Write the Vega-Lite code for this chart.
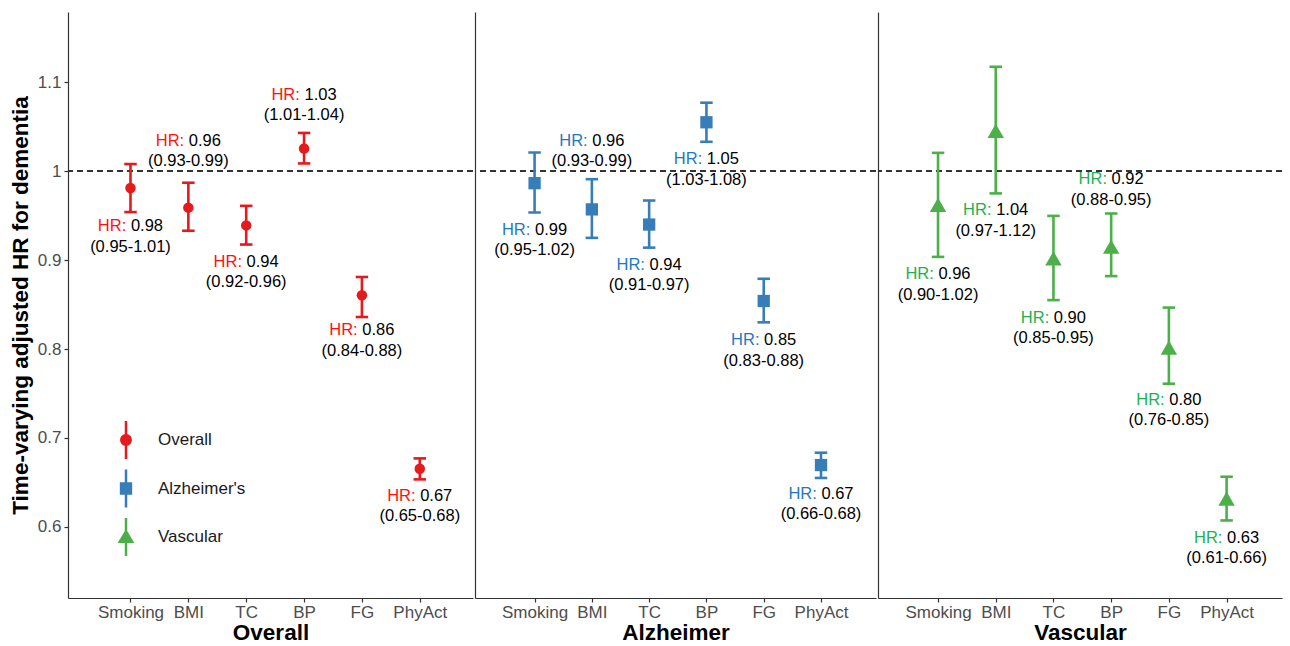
{
  "$schema": "https://vega.github.io/schema/vega-lite/v6.json",
  "background": "white",
  "padding": {"left": 9, "top": 12, "right": 4, "bottom": 0},
  "spacing": 0,
  "config": {
    "font": "Liberation Sans",
    "view": {"stroke": null},
    "axis": {"grid": false, "domainColor": "#333333", "domainWidth": 1.2, "tickColor": "#333333", "tickSize": 4, "tickWidth": 1.2, "labelColor": "#4D4D4D", "labelFontSize": 17, "labelFont": "Liberation Sans", "titleFont": "Liberation Sans", "titleFontSize": 22.5, "titleFontWeight": "bold", "titleColor": "#000000"},
    "text": {"font": "Liberation Sans", "fontSize": 16.5, "baseline": "middle"}
  },
  "datasets": {
    "hr": [
      {"outcome": "Overall", "factor": "Smoking", "hr": 0.981, "lo": 0.954, "hi": 1.008, "hr_txt": "0.98", "ci_txt": "(0.95-1.01)", "label_y": 0.938},
      {"outcome": "Overall", "factor": "BMI", "hr": 0.959, "lo": 0.933, "hi": 0.987, "hr_txt": "0.96", "ci_txt": "(0.93-0.99)", "label_y": 1.034},
      {"outcome": "Overall", "factor": "TC", "hr": 0.939, "lo": 0.9175, "hi": 0.961, "hr_txt": "0.94", "ci_txt": "(0.92-0.96)", "label_y": 0.898},
      {"outcome": "Overall", "factor": "BP", "hr": 1.0255, "lo": 1.0087, "hi": 1.043, "hr_txt": "1.03", "ci_txt": "(1.01-1.04)", "label_y": 1.086},
      {"outcome": "Overall", "factor": "FG", "hr": 0.8605, "lo": 0.836, "hi": 0.881, "hr_txt": "0.86", "ci_txt": "(0.84-0.88)", "label_y": 0.821},
      {"outcome": "Overall", "factor": "PhyAct", "hr": 0.6654, "lo": 0.6534, "hi": 0.677, "hr_txt": "0.67", "ci_txt": "(0.65-0.68)", "label_y": 0.635},
      {"outcome": "Alzheimer's", "factor": "Smoking", "hr": 0.9865, "lo": 0.9535, "hi": 1.021, "hr_txt": "0.99", "ci_txt": "(0.95-1.02)", "label_y": 0.934},
      {"outcome": "Alzheimer's", "factor": "BMI", "hr": 0.957, "lo": 0.925, "hi": 0.991, "hr_txt": "0.96", "ci_txt": "(0.93-0.99)", "label_y": 1.034},
      {"outcome": "Alzheimer's", "factor": "TC", "hr": 0.94, "lo": 0.914, "hi": 0.967, "hr_txt": "0.94", "ci_txt": "(0.91-0.97)", "label_y": 0.895},
      {"outcome": "Alzheimer's", "factor": "BP", "hr": 1.055, "lo": 1.033, "hi": 1.077, "hr_txt": "1.05", "ci_txt": "(1.03-1.08)", "label_y": 1.0135},
      {"outcome": "Alzheimer's", "factor": "FG", "hr": 0.854, "lo": 0.83, "hi": 0.879, "hr_txt": "0.85", "ci_txt": "(0.83-0.88)", "label_y": 0.81},
      {"outcome": "Alzheimer's", "factor": "PhyAct", "hr": 0.6695, "lo": 0.655, "hi": 0.6834, "hr_txt": "0.67", "ci_txt": "(0.66-0.68)", "label_y": 0.637},
      {"outcome": "Vascular", "factor": "Smoking", "hr": 0.962, "lo": 0.9036, "hi": 1.0206, "hr_txt": "0.96", "ci_txt": "(0.90-1.02)", "label_y": 0.884},
      {"outcome": "Vascular", "factor": "BMI", "hr": 1.0454, "lo": 0.975, "hi": 1.1174, "hr_txt": "1.04", "ci_txt": "(0.97-1.12)", "label_y": 0.956},
      {"outcome": "Vascular", "factor": "TC", "hr": 0.902, "lo": 0.855, "hi": 0.9497, "hr_txt": "0.90", "ci_txt": "(0.85-0.95)", "label_y": 0.835},
      {"outcome": "Vascular", "factor": "BP", "hr": 0.915, "lo": 0.882, "hi": 0.9524, "hr_txt": "0.92", "ci_txt": "(0.88-0.95)", "label_y": 0.991},
      {"outcome": "Vascular", "factor": "FG", "hr": 0.8016, "lo": 0.761, "hi": 0.8466, "hr_txt": "0.80", "ci_txt": "(0.76-0.85)", "label_y": 0.743},
      {"outcome": "Vascular", "factor": "PhyAct", "hr": 0.6317, "lo": 0.6072, "hi": 0.6564, "hr_txt": "0.63", "ci_txt": "(0.61-0.66)", "label_y": 0.588}
    ]
  },
  "data": {"name": "hr"},
  "hconcat": [
    {
      "width": 405, "height": 586,
      "transform": [{"filter": "datum.outcome === 'Overall'"}],
      "layer": [
        {"mark": {"type": "rule", "strokeDash": [6, 4], "color": "#333333", "strokeWidth": 1.2},
         "encoding": {"y": {"datum": 1, "type": "quantitative", "scale": {"domain": [0.52, 1.179], "nice": false, "zero": false}, "title": "Time-varying adjusted HR for dementia", "axis": {"values": [0.6, 0.7, 0.8, 0.9, 1, 1.1], "format": ".2~f", "labelPadding": 3, "titlePadding": 5}}}},
        {"mark": {"type": "rule", "color": "#E41A1C", "strokeWidth": 2.6},
         "encoding": {"x": {"field": "factor", "type": "nominal", "scale": {"type": "point", "domain": ["Smoking", "BMI", "TC", "BP", "FG", "PhyAct"], "padding": 1, "align": 0.54}, "title": "Overall", "axis": {"labelAngle": 0, "titlePadding": 1, "labelPadding": 2}},
                      "y": {"field": "lo", "type": "quantitative", "title": "Time-varying adjusted HR for dementia"}, "y2": {"field": "hi"}}},
        {"mark": {"type": "tick", "color": "#E41A1C", "thickness": 2.6, "size": 12.5, "opacity": 1},
         "encoding": {"x": {"field": "factor", "type": "nominal", "title": "Overall"}, "y": {"field": "lo", "type": "quantitative", "title": "Time-varying adjusted HR for dementia"}}},
        {"mark": {"type": "tick", "color": "#E41A1C", "thickness": 2.6, "size": 12.5, "opacity": 1},
         "encoding": {"x": {"field": "factor", "type": "nominal", "title": "Overall"}, "y": {"field": "hi", "type": "quantitative", "title": "Time-varying adjusted HR for dementia"}}},
        {"mark": {"type": "point", "shape": "circle", "filled": true, "color": "#E41A1C", "size": 110, "opacity": 1},
         "encoding": {"x": {"field": "factor", "type": "nominal", "title": "Overall"}, "y": {"field": "hr", "type": "quantitative", "title": "Time-varying adjusted HR for dementia"}}},
        {"mark": {"type": "text", "text": "HR:", "align": "right", "dx": -4.2, "color": "#FF1010"},
         "encoding": {"x": {"field": "factor", "type": "nominal", "title": "Overall"}, "y": {"field": "label_y", "type": "quantitative", "title": "Time-varying adjusted HR for dementia"}}},
        {"mark": {"type": "text", "align": "left", "dx": 0.4, "color": "#000000"},
         "encoding": {"x": {"field": "factor", "type": "nominal", "title": "Overall"}, "y": {"field": "label_y", "type": "quantitative", "title": "Time-varying adjusted HR for dementia"}, "text": {"field": "hr_txt"}}},
        {"mark": {"type": "text", "align": "center", "dy": 20.5, "color": "#000000"},
         "encoding": {"x": {"field": "factor", "type": "nominal", "title": "Overall"}, "y": {"field": "label_y", "type": "quantitative", "title": "Time-varying adjusted HR for dementia"}, "text": {"field": "ci_txt"}}},
        {"mark": {"type": "point", "filled": true, "opacity": 0, "size": 1444},
         "encoding": {"x": {"field": "factor", "type": "nominal", "title": "Overall"}, "y": {"field": "hr", "type": "quantitative", "title": "Time-varying adjusted HR for dementia"},
           "color": {"field": "outcome", "type": "nominal", "scale": {"domain": ["Overall", "Alzheimer's", "Vascular"], "range": ["#E41A1C", "#377EB8", "#4DAF4A"]},
             "legend": {"orient": "none", "legendX": 39, "legendY": 409, "title": null, "symbolSize": 1444, "symbolOpacity": 1, "symbolStrokeWidth": 0, "labelFontSize": 17, "labelColor": "#1A1A1A", "labelFont": "Liberation Sans", "labelOffset": 13, "rowPadding": 10.5}},
           "shape": {"field": "outcome", "type": "nominal", "scale": {"domain": ["Overall", "Alzheimer's", "Vascular"], "range": ["M-0.066,-1L0.066,-1L0.066,1L-0.066,1ZM0.31,0A0.31,0.31,0,1,1,-0.31,0A0.31,0.31,0,1,1,0.31,0Z", "M-0.066,-1L0.066,-1L0.066,1L-0.066,1ZM-0.325,-0.325L0.325,-0.325L0.325,0.325L-0.325,0.325Z", "M-0.066,-1L0.066,-1L0.066,1L-0.066,1ZM0,-0.42L0.44,0.32L-0.44,0.32Z"]},
             "legend": {"orient": "none", "legendX": 39, "legendY": 409, "title": null, "symbolSize": 1444, "symbolOpacity": 1, "symbolStrokeWidth": 0, "labelFontSize": 17, "labelColor": "#1A1A1A", "labelFont": "Liberation Sans", "labelOffset": 13, "rowPadding": 10.5}}}}
      ]
    },
    {
      "width": 401, "height": 586,
      "transform": [{"filter": "datum.outcome === \"Alzheimer's\""}],
      "layer": [
        {"mark": {"type": "rule", "strokeDash": [6, 4], "color": "#333333", "strokeWidth": 1.2},
         "encoding": {"y": {"datum": 1, "type": "quantitative", "scale": {"domain": [0.52, 1.179], "nice": false, "zero": false}, "title": null, "axis": {"labels": false, "ticks": false}}}},
        {"mark": {"type": "rule", "color": "#377EB8", "strokeWidth": 2.6},
         "encoding": {"x": {"field": "factor", "type": "nominal", "scale": {"type": "point", "domain": ["Smoking", "BMI", "TC", "BP", "FG", "PhyAct"], "padding": 1, "align": 0.52}, "title": "Alzheimer", "axis": {"labelAngle": 0, "titlePadding": 1, "labelPadding": 2}},
                      "y": {"field": "lo", "type": "quantitative", "title": null}, "y2": {"field": "hi"}}},
        {"mark": {"type": "tick", "color": "#377EB8", "thickness": 2.6, "size": 12.5, "opacity": 1},
         "encoding": {"x": {"field": "factor", "type": "nominal", "title": "Alzheimer"}, "y": {"field": "lo", "type": "quantitative", "title": null}}},
        {"mark": {"type": "tick", "color": "#377EB8", "thickness": 2.6, "size": 12.5, "opacity": 1},
         "encoding": {"x": {"field": "factor", "type": "nominal", "title": "Alzheimer"}, "y": {"field": "hi", "type": "quantitative", "title": null}}},
        {"mark": {"type": "point", "shape": "square", "filled": true, "color": "#377EB8", "size": 151, "opacity": 1},
         "encoding": {"x": {"field": "factor", "type": "nominal", "title": "Alzheimer"}, "y": {"field": "hr", "type": "quantitative", "title": null}}},
        {"mark": {"type": "text", "text": "HR:", "align": "right", "dx": -4.2, "color": "#1F78C4"},
         "encoding": {"x": {"field": "factor", "type": "nominal", "title": "Alzheimer"}, "y": {"field": "label_y", "type": "quantitative", "title": null}}},
        {"mark": {"type": "text", "align": "left", "dx": 0.4, "color": "#000000"},
         "encoding": {"x": {"field": "factor", "type": "nominal", "title": "Alzheimer"}, "y": {"field": "label_y", "type": "quantitative", "title": null}, "text": {"field": "hr_txt"}}},
        {"mark": {"type": "text", "align": "center", "dy": 20.5, "color": "#000000"},
         "encoding": {"x": {"field": "factor", "type": "nominal", "title": "Alzheimer"}, "y": {"field": "label_y", "type": "quantitative", "title": null}, "text": {"field": "ci_txt"}}}
      ]
    },
    {
      "width": 404, "height": 586,
      "transform": [{"filter": "datum.outcome === 'Vascular'"}],
      "layer": [
        {"mark": {"type": "rule", "strokeDash": [6, 4], "color": "#333333", "strokeWidth": 1.2},
         "encoding": {"y": {"datum": 1, "type": "quantitative", "scale": {"domain": [0.52, 1.179], "nice": false, "zero": false}, "title": null, "axis": {"labels": false, "ticks": false}}}},
        {"mark": {"type": "rule", "color": "#4DAF4A", "strokeWidth": 2.6},
         "encoding": {"x": {"field": "factor", "type": "nominal", "scale": {"type": "point", "domain": ["Smoking", "BMI", "TC", "BP", "FG", "PhyAct"], "padding": 1, "align": 0.52}, "title": "Vascular", "axis": {"labelAngle": 0, "titlePadding": 1, "labelPadding": 2}},
                      "y": {"field": "lo", "type": "quantitative", "title": null}, "y2": {"field": "hi"}}},
        {"mark": {"type": "tick", "color": "#4DAF4A", "thickness": 2.6, "size": 12.5, "opacity": 1},
         "encoding": {"x": {"field": "factor", "type": "nominal", "title": "Vascular"}, "y": {"field": "lo", "type": "quantitative", "title": null}}},
        {"mark": {"type": "tick", "color": "#4DAF4A", "thickness": 2.6, "size": 12.5, "opacity": 1},
         "encoding": {"x": {"field": "factor", "type": "nominal", "title": "Vascular"}, "y": {"field": "hi", "type": "quantitative", "title": null}}},
        {"mark": {"type": "point", "shape": "triangle-up", "filled": true, "color": "#4DAF4A", "size": 270, "opacity": 1},
         "encoding": {"x": {"field": "factor", "type": "nominal", "title": "Vascular"}, "y": {"field": "hr", "type": "quantitative", "title": null}}},
        {"mark": {"type": "text", "text": "HR:", "align": "right", "dx": -4.2, "color": "#1DB150"},
         "encoding": {"x": {"field": "factor", "type": "nominal", "title": "Vascular"}, "y": {"field": "label_y", "type": "quantitative", "title": null}}},
        {"mark": {"type": "text", "align": "left", "dx": 0.4, "color": "#000000"},
         "encoding": {"x": {"field": "factor", "type": "nominal", "title": "Vascular"}, "y": {"field": "label_y", "type": "quantitative", "title": null}, "text": {"field": "hr_txt"}}},
        {"mark": {"type": "text", "align": "center", "dy": 20.5, "color": "#000000"},
         "encoding": {"x": {"field": "factor", "type": "nominal", "title": "Vascular"}, "y": {"field": "label_y", "type": "quantitative", "title": null}, "text": {"field": "ci_txt"}}}
      ]
    }
  ]
}
